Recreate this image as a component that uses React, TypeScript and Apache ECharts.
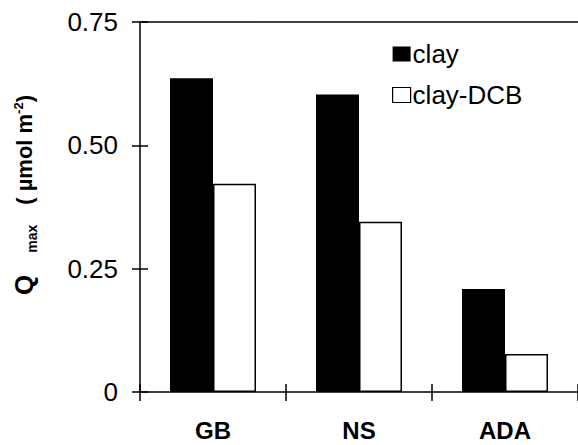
import React, { useEffect, useRef } from "react";
import * as echarts from "echarts";

const categories = ["GB", "NS", "ADA"];
const clayValues = [0.636, 0.603, 0.209];
const clayDcbValues = [0.422, 0.345, 0.077];
const seriesNames = ["clay", "clay-DCB"];
const yTicks = [0, 0.25, 0.5, 0.75];

const FONT = "Liberation Sans, Arial, sans-serif";

export default function App() {
  const ref = useRef<HTMLDivElement>(null);
  useEffect(() => {
    if (!ref.current) return;
    const chart = echarts.init(ref.current, null, { renderer: "svg" });
    const yMin = yTicks[0];
    const yMax = yTicks[yTicks.length - 1];
    const interval = yTicks[1] - yTicks[0];
    const gridRect = { left: 140, right: 0, top: 22, bottom: 53, containLabel: false };
    const lineStyle = { color: "#000", width: 1.5 };
    const bold = { fontWeight: "bold", fontFamily: FONT, fill: "#000" };
    chart.setOption({
      animation: false,
      backgroundColor: "#fff",
      textStyle: { fontFamily: FONT, color: "#000" },
      grid: [gridRect],
      legend: {
        orient: "vertical",
        left: 392,
        top: 41,
        padding: 0,
        itemWidth: 18,
        itemHeight: 15,
        itemGap: 15,
        icon: "rect",
        textStyle: { fontFamily: FONT, fontSize: 26, lineHeight: 26, color: "#000", padding: [0, 0, 0, -3] },
        data: [
          { name: seriesNames[0], itemStyle: { color: "#000" } },
          { name: seriesNames[1], itemStyle: { color: "#fff", borderColor: "#000", borderWidth: 1.2 } },
        ],
      },
      graphic: [
        {
          type: "text",
          x: 24,
          y: 195,
          rotation: Math.PI / 2,
          style: {
            text: "{q|Q}{g1| }{sub|max}{g2| }{b|( µmol m}{sup|-2}{b|)}",
            align: "center",
            verticalAlign: "middle",
            fill: "#000",
            rich: {
              q: { ...bold, fontSize: 26, lineHeight: 30 },
              g1: { ...bold, fontSize: 10, width: 22, lineHeight: 30 },
              g2: { ...bold, fontSize: 10, width: 20, lineHeight: 30 },
              b: { ...bold, fontSize: 22, lineHeight: 30 },
              sub: { ...bold, fontSize: 14, lineHeight: 30, padding: [16, 0, 0, 0] },
              sup: { ...bold, fontSize: 13, lineHeight: 30, padding: [0, 0, 12, 0] },
            },
          },
        },
      ],
      xAxis: [
        {
          type: "category",
          data: categories,
          position: "bottom",
          offset: -8,
          axisLine: { show: false },
          axisTick: { show: true, length: 17, lineStyle },
          axisLabel: { fontFamily: FONT, fontSize: 24, lineHeight: 24, fontWeight: "bold", color: "#000", margin: 34 },
          splitLine: { show: false },
        },
        {
          type: "category",
          data: categories,
          position: "bottom",
          axisLine: { show: true, lineStyle },
          axisTick: { show: false },
          axisLabel: { show: false },
          splitLine: { show: false },
        },
        {
          type: "category",
          data: categories,
          position: "top",
          axisLine: { show: true, lineStyle },
          axisTick: { show: false },
          axisLabel: { show: false },
          splitLine: { show: false },
        },
      ],
      yAxis: [
        {
          type: "value",
          min: yMin,
          max: yMax,
          interval,
          position: "left",
          axisLine: { show: true, lineStyle },
          axisTick: { show: false },
          axisLabel: {
            fontFamily: FONT,
            fontSize: 26,
            color: "#000",
            margin: 22,
            formatter: (v: number) => (v === 0 ? "0" : v.toFixed(2)),
          },
          splitLine: { show: false },
        },
        {
          type: "value",
          min: yMin,
          max: yMax,
          interval,
          position: "left",
          offset: -8,
          axisLine: { show: false },
          axisTick: { show: true, length: 16, lineStyle },
          axisLabel: { show: false },
          splitLine: { show: false },
        },
      ],
      series: [
        {
          name: seriesNames[0],
          type: "bar",
          xAxisIndex: 0,
          yAxisIndex: 0,
          data: clayValues,
          barWidth: 43,
          barGap: "0%",
          itemStyle: { color: "#000" },
        },
        {
          name: seriesNames[1],
          type: "bar",
          xAxisIndex: 0,
          yAxisIndex: 1,
          data: clayDcbValues,
          barWidth: 43,
          barGap: "0%",
          itemStyle: { color: "#fff", borderColor: "#000", borderWidth: 1.5 },
        },
      ],
    });
    return () => chart.dispose();
  }, []);
  return (
    <div
      ref={ref}
      style={{ position: "fixed", left: 0, top: 0, width: 578, height: 445, background: "#fff" }}
    />
  );
}
